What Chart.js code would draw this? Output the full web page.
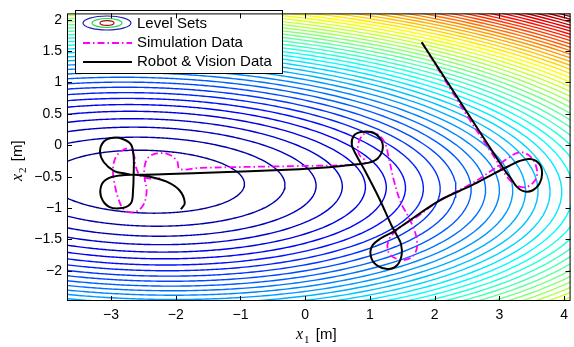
<!DOCTYPE html>
<html>
<head>
<meta charset="utf-8">
<script src="https://cdn.jsdelivr.net/npm/chart.js@4.4.1/dist/chart.umd.min.js"></script>
<style>
  html,body{margin:0;padding:0;background:#fff}
  #wrap{width:574px;height:347px}
</style>
</head>
<body>
<div id="wrap"><canvas id="chart" width="574" height="347"></canvas></div>
<script>
// axis ticks
const xTicks = [-3, -2, -1, 0, 1, 2, 3, 4];
const yTicks = [-2, -1.5, -1, -0.5, 0, 0.5, 1, 1.5, 2];

// level sets of the cost field (quadratic form around the source)
const fieldCenter = [-2.45, -0.58];
const fieldCoef = [0.44, 0.10, 4.0];   // a, b, c  ->  a*dx^2 + 2b*dx*dy + c*dy^2
const levels = [1,2,3,4,5,6,7,8,9,10,11,12,13,14,15,16,17,18,19,20,21,22,23,24,25,
  26,27,28,29,30,31,32,33,34,35,36,37,38,39,40,41,42,43,44,45,46,47,48,49,50,51];
const levelMax = 51;

// robot & vision data
const robotX = [1.80, 3.09, 3.18, 3.26, 3.37, 3.51, 3.62, 3.66, 3.62, 3.48, 3.31, 3.15, 3.03, 2.83, 2.57, 2.06,
  1.37, 1.17, 1.03, 1.02, 1.12, 1.28, 1.42, 1.49, 1.48, 1.42, 1.34, 1.14, 0.91, 0.78,
  0.72, 0.75, 0.86, 1.02, 1.15, 1.20, 1.12, 0.97, 0.75, 0.37, -0.09, -1.63, -2.65,
  -2.78, -2.95, -3.11, -3.17, -3.11, -2.97, -2.82, -2.69, -2.65, -2.65,
  -2.66, -2.69, -2.83, -3.03, -3.15, -3.15, -3.05, -2.86, -2.63,
  -2.40, -2.14, -1.94, -1.86, -1.92];
const robotY = [1.64, -0.41, -0.53, -0.65, -0.73, -0.72, -0.61, -0.45, -0.30, -0.22, -0.25, -0.33, -0.39, -0.50, -0.64, -0.89,
  -1.37, -1.48, -1.61, -1.79, -1.92, -1.97, -1.91, -1.75, -1.57, -1.44, -1.29, -0.84, -0.38, -0.14,
  0.01, 0.15, 0.21, 0.21, 0.12, -0.04, -0.21, -0.28, -0.31, -0.35, -0.38, -0.44, -0.47,
  -0.45, -0.41, -0.27, -0.10, 0.06, 0.12, 0.10, 0.01, -0.19, -0.45,
  -0.72, -0.92, -1.00, -0.98, -0.83, -0.64, -0.53, -0.48, -0.47,
  -0.50, -0.58, -0.72, -0.92, -1.02];

// simulation data
const simX = [1.80, 2.52, 2.91, 3.06, 3.22, 3.40, 3.55, 3.58, 3.49, 3.32, 3.11, 2.94, 2.57, 2.06,
  1.71, 1.45, 1.29, 1.29, 1.45, 1.62, 1.72, 1.71, 1.60, 1.48, 1.37, 1.29,
  1.23, 1.11, 0.94, 0.83, 0.83, 0.94, 0.75, -0.09, -1.63, -1.94,
  -1.98, -2.12, -2.29, -2.42, -2.48, -2.48, -2.45, -2.49, -2.58, -2.71, -2.82, -2.89, -2.94, -2.97,
  -2.94, -2.85, -2.74, -2.65, -2.62, -2.55, -2.40, -2.25];
const simY = [1.64, 0.44, -0.17, -0.42, -0.61, -0.67, -0.56, -0.39, -0.19, -0.11, -0.22, -0.36, -0.61, -0.89,
  -1.15, -1.32, -1.51, -1.71, -1.82, -1.80, -1.66, -1.43, -1.15, -0.92, -0.56, -0.19,
  0.04, 0.18, 0.20, 0.06, -0.14, -0.27, -0.31, -0.33, -0.36, -0.38,
  -0.25, -0.14, -0.13, -0.19, -0.33, -0.53, -0.73, -0.93, -1.04, -1.07, -1.00, -0.84, -0.64, -0.42,
  -0.22, -0.10, -0.05, -0.14, -0.33, -0.48, -0.53, -0.52];

function jet(t) {
  const cl = v => Math.max(0, Math.min(1, v));
  const r = cl(1.5 - Math.abs(4 * t - 3));
  const g = cl(1.5 - Math.abs(4 * t - 2));
  const b = cl(1.5 - Math.abs(4 * t - 1));
  return `rgb(${Math.round(r*255)},${Math.round(g*255)},${Math.round(b*255)})`;
}

// points on the level set f = L
function levelCurve(L) {
  const [a, b, c] = fieldCoef;
  const pts = [];
  const n = 360;
  for (let i = 0; i <= n; i++) {
    const th = 2 * Math.PI * i / n;
    const u = Math.cos(th), v = Math.sin(th);
    const q = a*u*u + 2*b*u*v + c*v*v;
    const r = Math.sqrt(L / q);
    pts.push({ x: fieldCenter[0] + r*u, y: fieldCenter[1] + r*v });
  }
  return pts;
}

const toPts = (xs, ys) => xs.map((x, i) => ({ x, y: ys[i] }));

const datasets = levels.map(L => ({
  data: levelCurve(L),
  showLine: true, pointRadius: 0, borderWidth: 1.4,
  borderColor: jet(L / levelMax), tension: 0, clip: 0, order: 3
}));
datasets.push({
  data: toPts(simX, simY), showLine: true, pointRadius: 0, borderWidth: 1.8,
  borderColor: '#ff00ff', borderDash: [7, 3, 1.5, 3], tension: 0.35, clip: 0, order: 2
});
datasets.push({
  data: toPts(robotX, robotY), showLine: true, pointRadius: 0, borderWidth: 2,
  borderColor: '#000', tension: 0.35, clip: 0, order: 1
});

const SANS = '"Liberation Sans", Arial, sans-serif';

const frame = {
  id: 'frame',
  afterDatasetsDraw(chart) {
    const { ctx, chartArea: a, scales: { x, y } } = chart;
    ctx.save();
    // legend
    const lx = 75, ly = 10, lw = 207, lh = 63;
    ctx.fillStyle = '#fff';
    ctx.fillRect(lx, ly, lw, lh);
    ctx.strokeStyle = '#000'; ctx.lineWidth = 1;
    ctx.strokeRect(lx + 0.5, ly + 0.5, lw, lh);
    // level sets icon
    [[24, 7, '#1f1fb0'], [15, 4.5, '#30d050'], [7, 2.4, '#a01010']].forEach(([rx, ry, col]) => {
      ctx.beginPath(); ctx.strokeStyle = col; ctx.lineWidth = 1.2;
      ctx.ellipse(107, 23, rx, ry, 0, 0, 2 * Math.PI); ctx.stroke();
    });
    ctx.beginPath(); ctx.strokeStyle = '#ff00ff'; ctx.lineWidth = 1.8;
    ctx.setLineDash([7, 3, 1.5, 3]); ctx.moveTo(83, 43); ctx.lineTo(132, 43); ctx.stroke();
    ctx.setLineDash([]);
    ctx.beginPath(); ctx.strokeStyle = '#000'; ctx.lineWidth = 1.8;
    ctx.moveTo(83, 62); ctx.lineTo(132, 62); ctx.stroke();
    ctx.fillStyle = '#000'; ctx.font = '15px ' + SANS; ctx.textBaseline = 'middle';
    ctx.fillText('Level Sets', 137, 24);
    ctx.fillText('Simulation Data', 137, 43);
    ctx.fillText('Robot & Vision Data', 137, 62);

    // box and inward ticks
    ctx.strokeStyle = '#000'; ctx.lineWidth = 1;
    ctx.strokeRect(a.left + 0.5, a.top + 0.5, a.right - a.left - 1, a.bottom - a.top - 1);
    ctx.beginPath();
    xTicks.forEach(v => {
      const px = Math.round(x.getPixelForValue(v)) + 0.5;
      ctx.moveTo(px, a.bottom); ctx.lineTo(px, a.bottom - 5);
      ctx.moveTo(px, a.top); ctx.lineTo(px, a.top + 5);
    });
    yTicks.forEach(v => {
      const py = Math.round(y.getPixelForValue(v)) + 0.5;
      ctx.moveTo(a.left, py); ctx.lineTo(a.left + 5, py);
      ctx.moveTo(a.right, py); ctx.lineTo(a.right - 5, py);
    });
    ctx.stroke();

    // axis titles
    ctx.fillStyle = '#000'; ctx.textBaseline = 'alphabetic'; ctx.textAlign = 'left';
    const drawLabel = (sub) => {
      ctx.font = 'italic 16px "Liberation Serif", "DejaVu Serif", serif';
      ctx.fillText('x', 0, 0);
      let w = ctx.measureText('x').width;
      ctx.font = '11px "Liberation Serif", serif';
      ctx.fillText(sub, w + 1, 4);
      w += ctx.measureText(sub).width + 1;
      ctx.font = '15px ' + SANS;
      ctx.fillText(' [m]', w + 2, 0);
    };
    ctx.save(); ctx.translate(296, 339); drawLabel('1'); ctx.restore();
    ctx.save(); ctx.translate(22, 181); ctx.rotate(-Math.PI / 2); drawLabel('2'); ctx.restore();
    ctx.restore();
  }
};

const fmt = v => (v < 0 ? '\u2212' : '') + Math.abs(v);

new Chart(document.getElementById('chart'), {
  type: 'scatter',
  data: { datasets },
  options: {
    responsive: false, animation: false, devicePixelRatio: 1,
    layout: { padding: { top: 5, right: 1, left: 0, bottom: 0 } },
    plugins: { legend: { display: false }, tooltip: { enabled: false } },
    scales: {
      x: {
        type: 'linear', min: -3.68, max: 4.1,
        grid: { display: false, drawTicks: false }, border: { display: false },
        afterBuildTicks: s => { s.ticks = xTicks.map(v => ({ value: v })); },
        afterFit: s => { s.height = 46; },
        ticks: { color: '#000', font: { family: SANS, size: 14 }, padding: 6, callback: fmt, maxRotation: 0 }
      },
      y: {
        type: 'linear', min: -2.48, max: 2.1,
        grid: { display: false, drawTicks: false }, border: { display: false },
        afterBuildTicks: s => { s.ticks = yTicks.map(v => ({ value: v })); },
        afterFit: s => { s.width = 67; },
        ticks: { color: '#000', font: { family: SANS, size: 14 }, padding: 5, callback: fmt }
      }
    }
  },
  plugins: [frame]
});
</script>
</body>
</html>
